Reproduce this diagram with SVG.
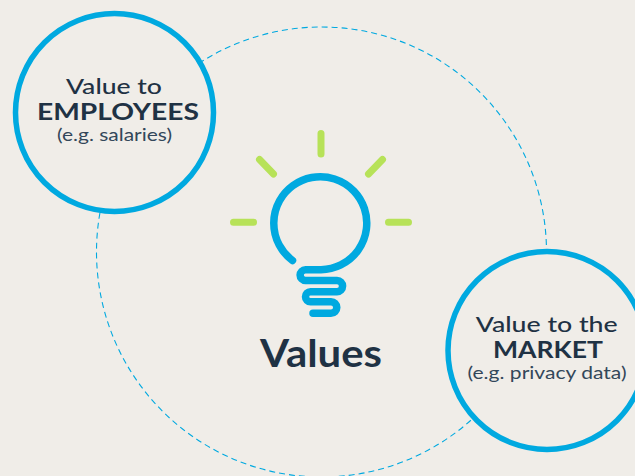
<svg xmlns="http://www.w3.org/2000/svg" width="635" height="476" viewBox="0 0 635 476">
<style>
.t{font-family:Lato,"Open Sans",sans-serif;fill:#1f3244;text-anchor:middle}
.m{font-size:22px;font-weight:500}
.b{font-size:22px;font-weight:700}
.s{font-size:17px;fill:#33475a}
.c{fill:#f0ede8;stroke:#00a9e0;stroke-width:5.5}
.r{stroke:#b7e258;stroke-width:7;stroke-linecap:round;fill:none}
.u{stroke:#00a9e0;stroke-width:7.500;stroke-linecap:round;stroke-linejoin:round;fill:none}
</style>
<rect width="635" height="476" fill="#f0ede8"/>
<g id="connectors"><circle cx="321.500" cy="252" r="225" fill="none" stroke="#00a9e0" stroke-width="1.100" stroke-dasharray="6 4"/></g>
<g id="node-employees">
<circle class="c" cx="114.500" cy="112.500" r="99"/>
<text class="t m" x="114" y="94" textLength="96" lengthAdjust="spacingAndGlyphs">Value to</text>
<text class="t b" x="118" y="120" textLength="162" lengthAdjust="spacingAndGlyphs">EMPLOYEES</text>
<text class="t s" x="114.500" y="141" textLength="115" lengthAdjust="spacingAndGlyphs">(e.g. salaries)</text>
</g>
<g id="node-market">
<circle class="c" cx="547" cy="350.500" r="99"/>
<text class="t m" x="546.700" y="332" textLength="142" lengthAdjust="spacingAndGlyphs">Value to the</text>
<text class="t b" x="548" y="358" textLength="110" lengthAdjust="spacingAndGlyphs">MARKET</text>
<text class="t s" x="547" y="379" textLength="159" lengthAdjust="spacingAndGlyphs">(e.g. privacy data)</text>
</g>
<g id="node-values">
<path class="r" d="M321 133.500V154M233.500 222.300H253.500M388.500 222.300H408.500M259.500 159.500L273.500 174M382.500 159.500L368.500 174"/>
<path class="u" d="M292.500 260.500A46.500 46.500 0 1 1 321 269.700H305.500A5.300 5.300 0 0 0 305.500 280.500H337A5.600 5.600 0 0 1 337 291.700H310.500A5 5 0 0 0 310.500 301.700H331A5.800 5.800 0 0 1 331 313.300H313"/>
<text class="t" x="321" y="367" font-size="38" font-weight="700" textLength="122" lengthAdjust="spacingAndGlyphs">Values</text>
</g>
</svg>
